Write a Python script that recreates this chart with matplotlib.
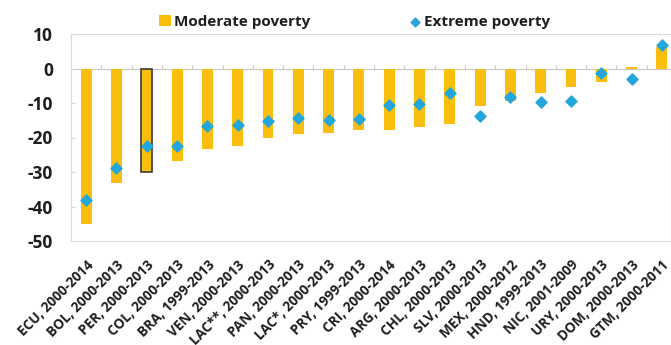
import numpy as np
import matplotlib.pyplot as plt

# Change in poverty rates (percentage points)
countries = ["ECU, 2000-2014", "BOL, 2000-2013", "PER, 2000-2013", "COL, 2000-2013",
             "BRA, 1999-2013", "VEN, 2000-2013", "LAC**, 2000-2013", "PAN, 2000-2013",
             "LAC*, 2000-2013", "PRY, 1999-2013", "CRI, 2000-2014", "ARG, 2000-2013",
             "CHL, 2000-2013", "SLV, 2000-2013", "MEX, 2000-2012", "HND, 1999-2013",
             "NIC, 2001-2009", "URY, 2000-2013", "DOM, 2000-2013", "GTM, 2000-2011"]
moderate = [-45.2, -33.3, -30.0, -26.8, -23.4, -22.4, -20.0, -19.1, -18.7, -17.8,
            -17.8, -16.9, -16.1, -11.0, -9.5, -7.2, -5.5, -3.9, 0.3, 6.2]
extreme = [-38.2, -28.7, -22.4, -22.5, -16.7, -16.5, -15.1, -14.4, -14.8, -14.5,
           -10.7, -10.3, -7.0, -13.7, -8.3, -9.8, -9.3, -1.3, -2.9, 6.7]
yticks = [-50, -40, -30, -20, -10, 0, 10]
highlight = "PER, 2000-2013"

bar_color = "#FBBE0C"
dot_color = "#22A6DC"
grid_color = "#D9D9D9"
text_color = "#1E1E1E"

plt.rcParams['font.family'] = ['Open Sans', 'DejaVu Sans']

fig = plt.figure(figsize=(6.71, 3.45), dpi=100)
ax = fig.add_axes([71 / 671, 1 - 241 / 345, 600 / 671, (241 - 34) / 345])

x = np.arange(len(countries))
edges = ["#3A3A3A" if c == highlight else bar_color for c in countries]
widths = [1.2 if c == highlight else 0 for c in countries]
bars = ax.bar(x, moderate, width=0.36, color=bar_color, edgecolor=edges, linewidth=widths,
              label="Moderate poverty", zorder=2)
dots = ax.scatter(x, extreme, marker="D", s=32, color=dot_color, label="Extreme poverty",
                  zorder=3)

# zero line with small category boundary ticks
ax.axhline(0, color="#C8C8C8", lw=0.8, zorder=1)
ax.vlines(x[:-1] + 0.5, 0, 0.9, color="#C8C8C8", lw=0.8, zorder=1)

ax.set_xlim(-0.5, len(countries) - 0.7)
ax.set_ylim(-50, 10)
ax.set_yticks(yticks)
ax.set_yticklabels([str(v) for v in yticks], fontsize=12.5, fontweight="bold",
                   color=text_color)
ax.set_xticks(x)
ax.set_xticklabels(countries, rotation=45, ha="right", va="top", rotation_mode="anchor",
                   fontsize=9.8, fontweight="bold", color=text_color)
ax.tick_params(axis="x", length=0, pad=12)
ax.tick_params(axis="y", direction="in", length=3, color=grid_color, pad=13)
for s in ax.spines.values():
    s.set_color(grid_color)
    s.set_linewidth(0.8)

leg = fig.legend([bars, dots], ["Moderate poverty", "Extreme poverty"],
                 loc="center left", bbox_to_anchor=(159 / 671, 1 - 22 / 345), ncol=2,
                 frameon=False, prop={"size": 11, "weight": "bold"}, columnspacing=6.5,
                 handletextpad=0.15, handlelength=0.8, borderpad=0, borderaxespad=0)
leg.legend_handles[1].set_sizes([20])
for t in leg.get_texts():
    t.set_color(text_color)

fig.savefig("out.png", dpi=100)
